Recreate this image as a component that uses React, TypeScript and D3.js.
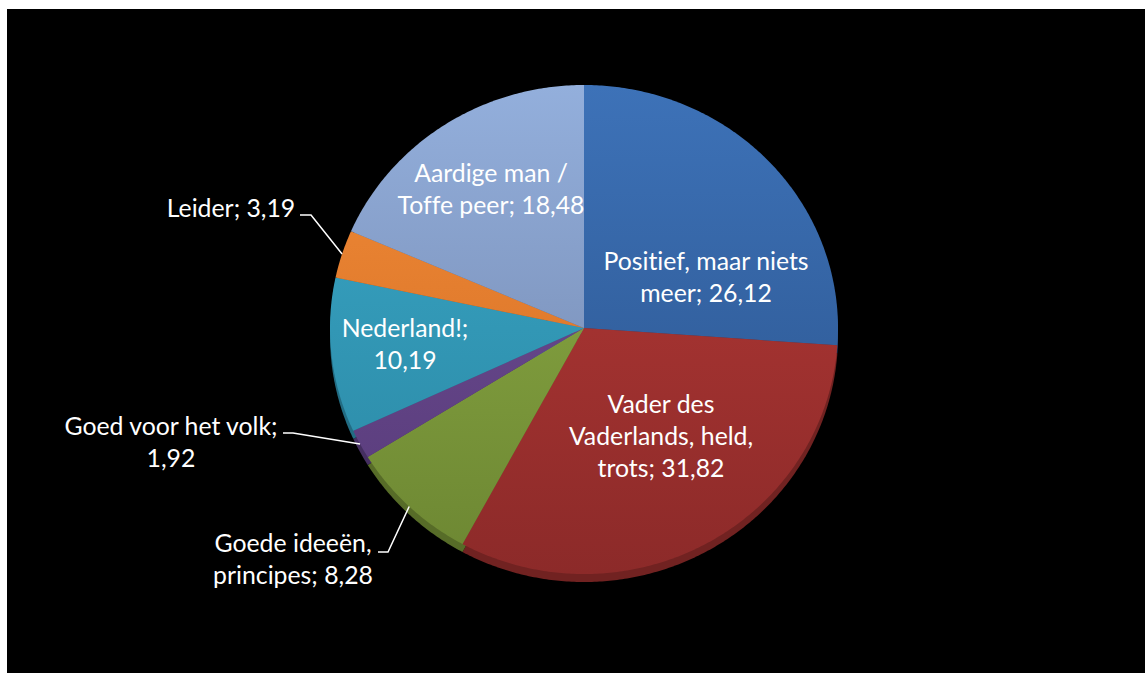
import React, { useEffect, useRef } from "react";
import * as d3 from "d3";

// ---- data
const categories = [
  "Positief, maar niets meer",
  "Vader des Vaderlands, held, trots",
  "Goede ideeën, principes",
  "Goed voor het volk",
  "Nederland!",
  "Leider",
  "Aardige man / Toffe peer",
];
const values = [26.12, 31.82, 8.28, 1.92, 10.19, 3.19, 18.48];

// label text lines, as they wrap in the original
const labelLines = [
  ["Positief, maar niets", "meer; 26,12"],
  ["Vader des", "Vaderlands, held,", "trots; 31,82"],
  ["Goede ideeën,", "principes; 8,28"],
  ["Goed voor het volk;", "1,92"],
  ["Nederland!;", "10,19"],
  ["Leider; 3,19"],
  ["Aardige man /", "Toffe peer; 18,48"],
];

// ---- styles: [top colour, bottom colour] for every slice
const sliceColors = [
  ["#3d72b8", "#2a528a"],
  ["#b83a37", "#8c2a29"],
  ["#90b047", "#6c8632"],
  ["#725098", "#563a78"],
  ["#3aa8c8", "#2a86a2"],
  ["#f28c38", "#d06a22"],
  ["#93afdc", "#6f82a8"],
];

// label placement (text anchor point + leader line start)
const labelLayout: { x: number; y: number; leader?: number[] }[] = [
  { x: 706, y: 270 },
  { x: 661, y: 413 },
  { x: 293, y: 552, leader: [378, 552, 388, 552] },
  { x: 171, y: 435, leader: [283, 433, 293, 433] },
  { x: 405, y: 337 },
  { x: 231, y: 217, leader: [300, 215, 311, 215] },
  { x: 491, y: 182 },
];

const App = () => {
  const svgRef = useRef<SVGSVGElement>(null);

  useEffect(() => {
    document.body.style.margin = "0";
    const W = 1145;
    const H = 673;
    const cx = 584;
    const cy = 328;
    const rx = 254;
    const rTop = 243;
    const rBot = 246;
    const depth = 8;

    const svg = d3.select(svgRef.current).attr("width", W).attr("height", H);
    svg.selectAll("*").remove();

    svg.append("rect").attr("x", 7).attr("y", 9).attr("width", W - 7).attr("height", H - 9).attr("fill", "#000");

    // projection of a pie angle (0 = 12 o'clock, clockwise) on the tilted disc
    const proj = (a: number, dy = 0): [number, number] => {
      const s = Math.sin(a);
      const c = Math.cos(a);
      return [cx + rx * s, cy - (c > 0 ? rTop : rBot) * c + dy];
    };

    const pie = d3.pie<number>().sort(null).value((d) => d);
    const arcs = pie(values);

    const line = d3.line();
    const slicePath = (d: d3.PieArcDatum<number>, dy = 0) => {
      const n = Math.max(2, Math.ceil((d.endAngle - d.startAngle) / 0.01));
      const pts: [number, number][] = [[cx, cy + dy]];
      d3.range(n + 1).forEach((i) => {
        pts.push(proj(d.startAngle + ((d.endAngle - d.startAngle) * i) / n, dy));
      });
      return line(pts) + "Z";
    };

    const defs = svg.append("defs");
    sliceColors.forEach((c, i) => {
      const g = defs
        .append("linearGradient")
        .attr("id", "g" + i)
        .attr("gradientUnits", "userSpaceOnUse")
        .attr("x1", 0)
        .attr("x2", 0)
        .attr("y1", cy - rTop)
        .attr("y2", cy + rBot);
      g.append("stop").attr("offset", 0).attr("stop-color", c[0]);
      g.append("stop").attr("offset", 1).attr("stop-color", c[1]);
    });

    // side of the disc
    svg
      .append("g")
      .selectAll("path")
      .data(arcs)
      .join("path")
      .attr("d", (d) => slicePath(d, depth))
      .attr("fill", (d, i) => d3.color(sliceColors[i][1])!.darker(0.6).toString());

    // top of the disc
    svg
      .append("g")
      .selectAll("path")
      .data(arcs)
      .join("path")
      .attr("d", (d) => slicePath(d))
      .attr("fill", (d, i) => `url(#g${i})`)
      .append("title")
      .text((d, i) => categories[i]);

    // labels
    const lg = svg
      .append("g")
      .attr("font-family", "Lato, 'Open Sans', sans-serif")
      .attr("font-size", 24.8)
      .style("font-variant-ligatures", "none")
      .attr("fill", "#fff");
    labelLines.forEach((lines, i) => {
      const p = labelLayout[i];
      const t = lg.append("text").attr("text-anchor", "middle").attr("x", p.x).attr("y", p.y);
      lines.forEach((l, j) => {
        t.append("tspan").attr("x", p.x).attr("dy", j === 0 ? 0 : 32).text(l);
      });
      if (p.leader) {
        const a = (arcs[i].startAngle + arcs[i].endAngle) / 2;
        const end = proj(a);
        svg
          .append("polyline")
          .attr("points", [[p.leader[0], p.leader[1]], [p.leader[2], p.leader[3]], end].map((q) => q.join(",")).join(" "))
          .attr("fill", "none")
          .attr("stroke", "#fff")
          .attr("stroke-width", 1.5);
      }
    });
  }, []);

  return <svg ref={svgRef} />;
};

export default App;
